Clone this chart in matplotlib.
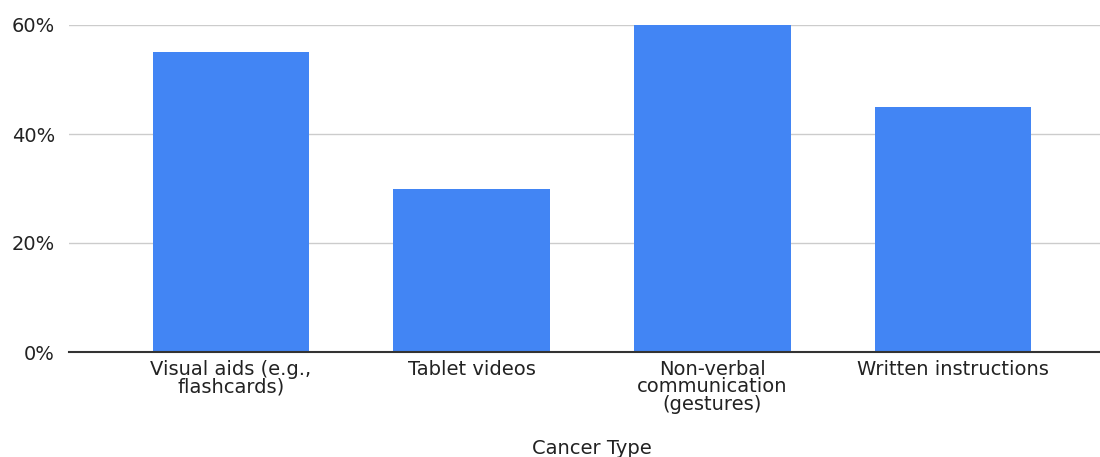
import matplotlib.pyplot as plt
from matplotlib.ticker import FuncFormatter

categories = ["Visual aids (e.g.,\nflashcards)", "Tablet videos",
              "Non-verbal\ncommunication\n(gestures)", "Written instructions"]
values = [55, 30, 60, 45]

plt.rcParams['font.family'] = ['DejaVu Sans']

fig = plt.figure(figsize=(11, 4.57), dpi=100)
ax = fig.add_axes([69 / 1100, 1 - 352 / 457, 1 - 69 / 1100, (352 - 25) / 457])

x = range(len(categories))
ax.bar(x, values, width=0.65, color="#4285F4", zorder=3)

ax.set_ylim(0, 60)
ax.set_xlim(-0.673, 3.61)
ax.set_yticks([0, 20, 40, 60])
ax.yaxis.set_major_formatter(FuncFormatter(lambda v, p: f"{int(v)}%"))
ax.set_xticks(list(x))
ax.set_xticklabels(categories, va="top", linespacing=0.92)

ax.grid(axis="y", color="#cccccc", linewidth=1, zorder=0)
for s in ["top", "right", "left"]:
    ax.spines[s].set_visible(False)
ax.spines["bottom"].set_color("#333333")
ax.spines["bottom"].set_linewidth(1.5)
ax.spines["bottom"].set_zorder(4)

ax.tick_params(axis="both", length=0, labelsize=14, colors="#222222")
ax.tick_params(axis="y", pad=10)
ax.tick_params(axis="x", pad=5.5)

fig.text(592 / 1100, 1 - 448 / 457, "Cancer Type", ha="center", va="center",
         fontsize=14, color="#222222")

fig.savefig("out.png", dpi=100)
